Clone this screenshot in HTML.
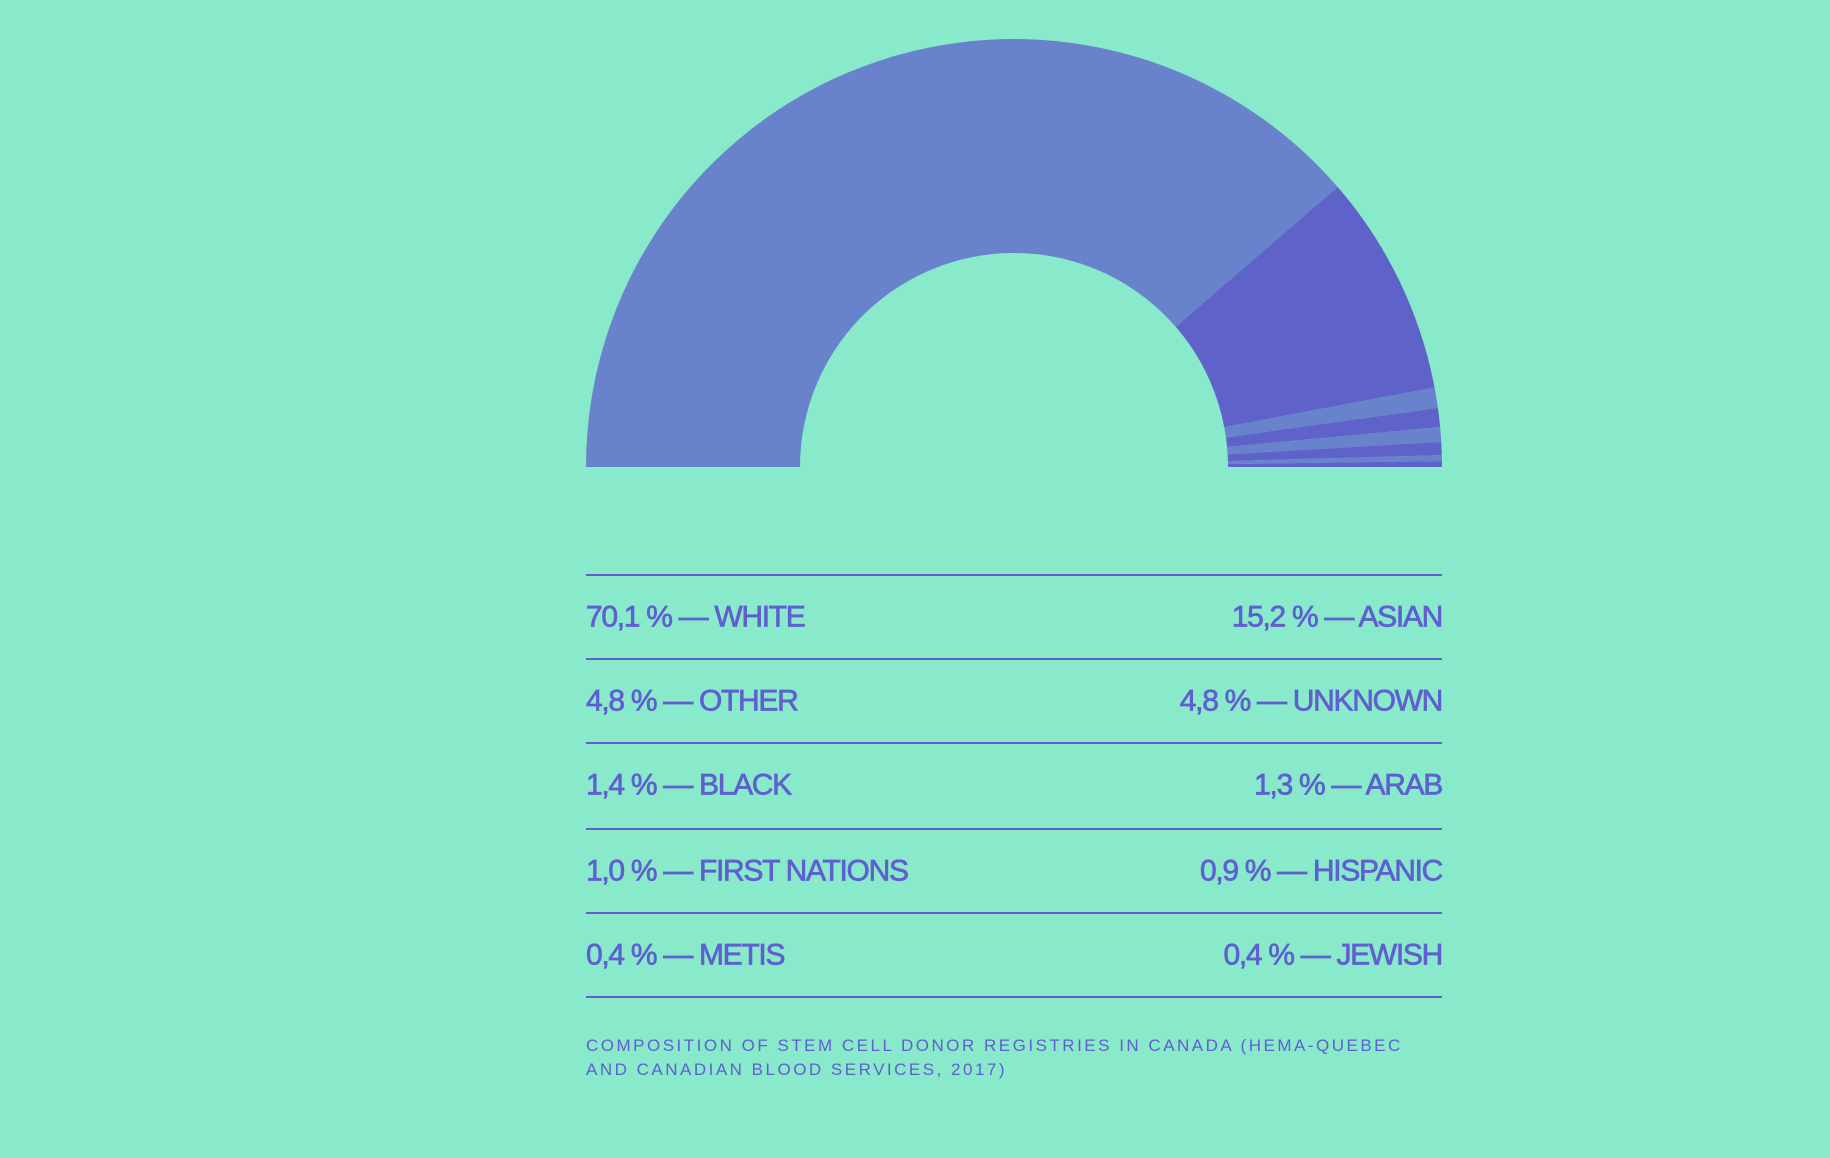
<!DOCTYPE html>
<html><head><meta charset="utf-8"><style>
html,body{margin:0;padding:0;background:#88e9cb;}
body{width:1830px;height:1158px;position:relative;overflow:hidden;font-family:"Liberation Sans",sans-serif;}
svg{position:absolute;left:0;top:0;}
.row{position:absolute;left:586px;width:856px;height:84px;color:#5f5fcf;font-size:30px;letter-spacing:-1.3px;-webkit-text-stroke:0.7px #5f5fcf;}
.row span{position:absolute;top:50%;transform:translateY(-48%);}
.l{left:0}.r{right:0}
.line{position:absolute;left:586px;width:856px;height:2px;background:#5f5fcf;}
.cap{position:absolute;left:586px;top:1034px;color:#5f5fcf;font-size:17px;letter-spacing:2.5px;line-height:24px;}
</style></head><body>
<svg width="1830" height="1158" id="chart"></svg>
<div class="line" style="top:574px"></div>
<div class="row" style="top:575px"><span class="l">70,1 % — WHITE</span><span class="r">15,2 % — ASIAN</span></div>
<div class="line" style="top:658px"></div>
<div class="row" style="top:659px"><span class="l">4,8 % — OTHER</span><span class="r">4,8 % — UNKNOWN</span></div>
<div class="line" style="top:742px"></div>
<div class="row" style="top:743px"><span class="l">1,4 % — BLACK</span><span class="r">1,3 % — ARAB</span></div>
<div class="line" style="top:828px"></div>
<div class="row" style="top:829px"><span class="l">1,0 % — FIRST NATIONS</span><span class="r">0,9 % — HISPANIC</span></div>
<div class="line" style="top:912px"></div>
<div class="row" style="top:913px"><span class="l">0,4 % — METIS</span><span class="r">0,4 % — JEWISH</span></div>
<div class="line" style="top:996px"></div>
<div class="cap">COMPOSITION OF STEM CELL DONOR REGISTRIES IN CANADA (HEMA-QUEBEC<br>AND CANADIAN BLOOD SERVICES, 2017)</div>
<script>
const categories = ["White","Asian","Black","Arab","First Nations","Hispanic","Metis","Jewish"];
const values = [70.1,15.2,1.4,1.3,1.0,0.9,0.4,0.4];
const colors = ["#6883cc","#5f62c9"];
const cx=1014, cy=467, R=428, r=214;
const svg=document.getElementById('chart');
const total=values.reduce((a,b)=>a+b,0);
function angle(v){return Math.PI - Math.PI*v/total;}
function pt(a,rad){return [cx+rad*Math.cos(a), cy-rad*Math.sin(a)];}
let acc=0;
values.forEach((v,i)=>{
  const a0=angle(acc), a1=angle(acc+v); acc+=v;
  const p0=pt(a0,R),p1=pt(a1,R),q1=pt(a1,r),q0=pt(a0,r);
  const large=(a0-a1)>Math.PI?1:0;
  const d=`M${p0[0]},${p0[1]} A${R},${R} 0 ${large} 1 ${p1[0]},${p1[1]} L${q1[0]},${q1[1]} A${r},${r} 0 ${large} 0 ${q0[0]},${q0[1]} Z`;
  const p=document.createElementNS('http://www.w3.org/2000/svg','path');
  p.setAttribute('d',d);
  p.setAttribute('fill',colors[i%2]);
  
  
  svg.appendChild(p);
});
</script>
</body></html>
